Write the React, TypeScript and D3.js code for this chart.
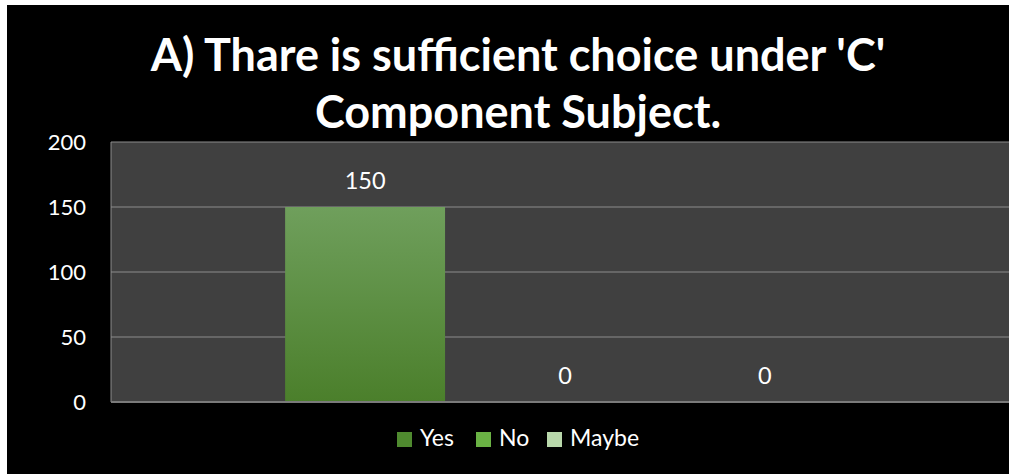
import * as d3 from 'd3';

const categories = ['C'];
const seriesNames = ['Yes', 'No', 'Maybe'];
const seriesValues = [150, 0, 0];
const yTicks = [0, 50, 100, 150, 200];
const titleLines = ["A) Thare is sufficient choice under 'C'", 'Component Subject.'];
const legendColors = ['#4f8a2f', '#6ab244', '#b9d8ab'];

export default function App() {
  const width = 1009;
  const height = 474;
  const plot = { left: 111, right: 1019, top: 142, bottom: 402 };
  const font = 'Lato, "Open Sans", sans-serif';

  const y = d3.scaleLinear().domain([0, 200]).range([plot.bottom, plot.top]);
  const x0 = d3.scaleBand<string>().domain(categories).range([plot.left, plot.right]).paddingInner(0).paddingOuter(0.257);
  const x1 = d3.scaleBand<string>().domain(seriesNames).range([0, x0.bandwidth()]).paddingInner(0.2).paddingOuter(0.1);

  const legendX = [397, 476, 547];

  return (
    <svg width={width} height={height} style={{ position: 'absolute', left: 0, top: 0 }}>
      <defs>
        <linearGradient id="gYes" x1="0" y1="0" x2="0" y2="1">
          <stop offset="0" stopColor="#6f9f5c" />
          <stop offset="1" stopColor="#4b7f2b" />
        </linearGradient>
        <clipPath id="clipAll">
          <rect x={0} y={0} width={width} height={height} />
        </clipPath>
      </defs>
      <rect x={0} y={0} width={width} height={height} fill="#ffffff" />
      <rect x={7} y={5} width={width - 7} height={height - 5} fill="#000000" />
      <g clipPath="url(#clipAll)">
        <rect x={plot.left} y={plot.top} width={plot.right - plot.left} height={plot.bottom - plot.top} fill="#404040" />
        {yTicks.map((t) => (
          <line key={t} x1={plot.left} x2={plot.right} y1={y(t)} y2={y(t)} stroke="#8c8c8c" strokeWidth={1} />
        ))}
        <line x1={plot.left} x2={plot.left} y1={plot.top} y2={plot.bottom} stroke="#8c8c8c" strokeWidth={1} />
        {categories.map((c) => (
          <g key={c} transform={`translate(${x0(c)},0)`}>
            {seriesNames.map((s, i) => {
              const v = seriesValues[i];
              const bx = x1(s) as number;
              return (
                <g key={s}>
                  {v > 0 && (
                    <rect x={bx} y={y(v)} width={x1.bandwidth()} height={y(0) - y(v)} fill="url(#gYes)" />
                  )}
                  <text x={bx + x1.bandwidth() / 2} y={y(v) - 18} textAnchor="middle" fill="#ffffff"
                    fontFamily={font} fontSize={23.5}>{v}</text>
                </g>
              );
            })}
          </g>
        ))}
        <line x1={plot.left} x2={plot.right} y1={plot.bottom} y2={plot.bottom} stroke="#7a7a7a" strokeWidth={2} />
      </g>
      {yTicks.map((t) => (
        <text key={t} x={86} y={y(t)} dy="0.35em" textAnchor="end" fill="#ffffff" fontFamily={font} fontSize={22}>{t}</text>
      ))}
      {titleLines.map((l, i) => (
        <text key={i} x={518} y={71 + i * 57} textAnchor="middle" fill="#ffffff" fontFamily={font}
          fontWeight="bold" fontSize={45}>{l}</text>
      ))}
      {seriesNames.map((s, i) => (
        <g key={s}>
          <rect x={legendX[i]} y={432} width={15} height={15} fill={legendColors[i]} />
          <text x={legendX[i] + 23} y={446} fill="#ffffff" fontFamily={font} fontSize={23}>{s}</text>
        </g>
      ))}
    </svg>
  );
}
